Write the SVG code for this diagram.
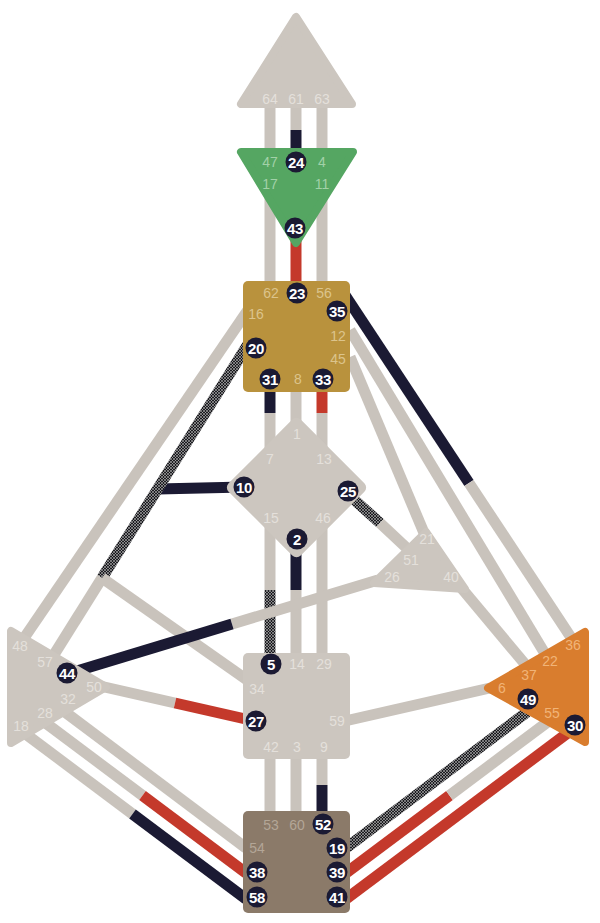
<svg xmlns="http://www.w3.org/2000/svg" width="600" height="923" viewBox="0 0 600 923">
<defs>
<pattern id="hatch" patternUnits="userSpaceOnUse" width="3" height="3">
<rect width="3" height="3" fill="#1c1c20"/>
<path d="M0,0L3,3M3,0L0,3" stroke="#ffffff" stroke-width="0.5" opacity="0.8"/>
</pattern>
<style>
.ch{stroke-width:11;fill:none;stroke-linecap:butt}
.g{stroke:#c9c3bc}
.d{stroke:#1b1a33}
.r{stroke:#c4392b}
.h{stroke:url(#hatch)}
.ctr{stroke-width:8;stroke-linejoin:round}
.gc{fill:#ccc6bf;stroke:#ccc6bf}
.t{font-family:"Liberation Sans",Arial,sans-serif;font-size:14px;text-anchor:middle}
.tg{fill:#e4e0db}
.tt{fill:#dcc48c}
.ta{fill:#a2d1a8}
.ts{fill:#f1b478}
.tr{fill:#b3a697}
.gate circle{fill:#1b1a33}
.gate text{font-family:"Liberation Sans",Arial,sans-serif;font-size:15px;font-weight:bold;fill:#ffffff;text-anchor:middle;letter-spacing:-0.4px}
</style>
</defs>
<rect width="600" height="923" fill="#ffffff"/>
<g id="connectors">
<line class="ch g" x1="270" y1="100" x2="270" y2="162"/>
<line class="ch g" x1="296" y1="100" x2="296" y2="130"/>
<line class="ch d" x1="296" y1="130" x2="296" y2="162"/>
<line class="ch g" x1="322" y1="100" x2="322" y2="162"/>
<line class="ch g" x1="270" y1="184" x2="270" y2="293"/>
<line class="ch r" x1="296" y1="228" x2="296" y2="293"/>
<line class="ch g" x1="322" y1="184" x2="322" y2="293"/>
<line class="ch d" x1="270" y1="378" x2="270" y2="413"/>
<line class="ch g" x1="270" y1="413" x2="270" y2="459"/>
<line class="ch g" x1="296" y1="379" x2="296" y2="434"/>
<line class="ch r" x1="322" y1="378" x2="322" y2="413"/>
<line class="ch g" x1="322" y1="413" x2="322" y2="459"/>
<line class="ch g" x1="270" y1="518" x2="270" y2="590"/>
<line class="ch h" x1="270" y1="590" x2="270" y2="664"/>
<line class="ch d" x1="296" y1="539" x2="296" y2="590"/>
<line class="ch g" x1="296" y1="590" x2="296" y2="664"/>
<line class="ch g" x1="322" y1="518" x2="322" y2="664"/>
<line class="ch g" x1="270" y1="747" x2="270" y2="825"/>
<line class="ch g" x1="296" y1="747" x2="296" y2="825"/>
<line class="ch g" x1="322" y1="747" x2="322" y2="785"/>
<line class="ch d" x1="322" y1="785" x2="322" y2="824"/>
<line class="ch g" x1="252" y1="304" x2="20" y2="644"/>
<line class="ch d" x1="158" y1="489" x2="244" y2="487"/>
<line class="ch h" x1="250" y1="341" x2="102" y2="578"/>
<line class="ch g" x1="102" y1="578" x2="50" y2="661"/>
<line class="ch g" x1="102" y1="578" x2="250" y2="682"/>
<line class="ch g" x1="232" y1="624" x2="378" y2="580"/>
<line class="ch d" x1="67" y1="674" x2="232" y2="624"/>
<line class="ch g" x1="100" y1="686" x2="175" y2="703"/>
<line class="ch r" x1="175" y1="703" x2="250" y2="720"/>
<line class="ch g" x1="65" y1="712" x2="246" y2="848"/>
<line class="ch g" x1="39" y1="718" x2="142.5" y2="795.5"/>
<line class="ch r" x1="142.5" y1="795.5" x2="246" y2="873"/>
<line class="ch g" x1="19" y1="729" x2="132.5" y2="814"/>
<line class="ch d" x1="132.5" y1="814" x2="246" y2="899"/>
<line class="ch g" x1="350" y1="357" x2="427" y2="540"/>
<line class="ch g" x1="350" y1="330" x2="550" y2="662"/>
<line class="ch d" x1="343" y1="292" x2="469" y2="483"/>
<line class="ch g" x1="469" y1="483" x2="574" y2="642"/>
<line class="ch h" x1="350" y1="496" x2="380" y2="523"/>
<line class="ch g" x1="380" y1="523" x2="412" y2="553"/>
<line class="ch g" x1="448" y1="572" x2="530" y2="670"/>
<line class="ch g" x1="345" y1="721" x2="490" y2="688"/>
<line class="ch h" x1="346" y1="848" x2="527" y2="712"/>
<line class="ch r" x1="346" y1="873" x2="449.5" y2="795.5"/>
<line class="ch g" x1="449.5" y1="795.5" x2="553" y2="718"/>
<line class="ch r" x1="346" y1="899" x2="573" y2="729"/>
</g>
<g id="head">
<polygon class="ctr gc" points="296,17 241,104 352,104"/>
<text class="t tg" x="270" y="104">64</text>
<text class="t tg" x="296" y="104">61</text>
<text class="t tg" x="322" y="104">63</text>
</g>
<g id="ajna">
<polygon class="ctr" fill="#55a662" stroke="#55a662" points="241,152 353,152 296,243"/>
<text class="t ta" x="270" y="167">47</text>
<text class="t ta" x="322" y="167">4</text>
<text class="t ta" x="270" y="189">17</text>
<text class="t ta" x="322" y="189">11</text>
<g class="gate"><circle cx="296" cy="162" r="10.5"/><text x="296" y="167.5">24</text></g>
<g class="gate"><circle cx="295" cy="228" r="10.5"/><text x="295" y="233.5">43</text></g>
</g>
<g id="throat">
<rect x="243" y="281" width="107" height="111" rx="5" fill="#b9923d"/>
<text class="t tt" x="271" y="298">62</text>
<text class="t tt" x="324" y="298">56</text>
<text class="t tt" x="256" y="319">16</text>
<text class="t tt" x="338" y="341">12</text>
<text class="t tt" x="338" y="364">45</text>
<text class="t tt" x="298" y="384">8</text>
<g class="gate"><circle cx="297" cy="293" r="10.5"/><text x="297" y="298.5">23</text></g>
<g class="gate"><circle cx="337" cy="311" r="10.5"/><text x="337" y="316.5">35</text></g>
<g class="gate"><circle cx="256" cy="348" r="10.5"/><text x="256" y="353.5">20</text></g>
<g class="gate"><circle cx="270" cy="379" r="10.5"/><text x="270" y="384.5">31</text></g>
<g class="gate"><circle cx="323" cy="379" r="10.5"/><text x="323" y="384.5">33</text></g>
</g>
<g id="g-center">
<rect x="-51" y="-51" width="102" height="102" rx="6" fill="#ccc6bf" transform="translate(296.5,487.5) rotate(45)"/>
<text class="t tg" x="297" y="439">1</text>
<text class="t tg" x="270" y="464">7</text>
<text class="t tg" x="324" y="464">13</text>
<text class="t tg" x="271" y="523">15</text>
<text class="t tg" x="323" y="523">46</text>
<g class="gate"><circle cx="244" cy="487" r="10.5"/><text x="244" y="492.5">10</text></g>
<g class="gate"><circle cx="348" cy="491" r="10.5"/><text x="348" y="496.5">25</text></g>
<g class="gate"><circle cx="297" cy="539" r="10.5"/><text x="297" y="544.5">2</text></g>
</g>
<g id="heart">
<polygon class="ctr gc" points="426,532 374,583 465,589"/>
<text class="t tg" x="427" y="544">21</text>
<text class="t tg" x="411" y="565">51</text>
<text class="t tg" x="392" y="582">26</text>
<text class="t tg" x="451" y="582">40</text>
</g>
<g id="spleen">
<polygon class="ctr gc" points="11,631 11,743 106,687"/>
<text class="t tg" x="20" y="651">48</text>
<text class="t tg" x="45" y="667">57</text>
<text class="t tg" x="94" y="692">50</text>
<text class="t tg" x="68" y="704">32</text>
<text class="t tg" x="45" y="718">28</text>
<text class="t tg" x="21" y="731">18</text>
<g class="gate"><circle cx="67" cy="673" r="10.5"/><text x="67" y="678.5">44</text></g>
</g>
<g id="sacral">
<rect x="243" y="653" width="107" height="106" rx="5" fill="#ccc6bf"/>
<text class="t tg" x="297" y="669">14</text>
<text class="t tg" x="324" y="669">29</text>
<text class="t tg" x="257" y="694">34</text>
<text class="t tg" x="337" y="726">59</text>
<text class="t tg" x="271" y="752">42</text>
<text class="t tg" x="297" y="752">3</text>
<text class="t tg" x="324" y="752">9</text>
<g class="gate"><circle cx="271" cy="664" r="10.5"/><text x="271" y="669.5">5</text></g>
<g class="gate"><circle cx="256" cy="721" r="10.5"/><text x="256" y="726.5">27</text></g>
</g>
<g id="solar-plexus">
<polygon class="ctr" fill="#d97d2e" stroke="#d97d2e" points="585,632 585,742 488,688"/>
<text class="t ts" x="573" y="650">36</text>
<text class="t ts" x="550" y="666">22</text>
<text class="t ts" x="529" y="680">37</text>
<text class="t ts" x="502" y="693">6</text>
<text class="t ts" x="552" y="718">55</text>
<g class="gate"><circle cx="528" cy="699" r="10.5"/><text x="528" y="704.5">49</text></g>
<g class="gate"><circle cx="575" cy="725" r="10.5"/><text x="575" y="730.5">30</text></g>
</g>
<g id="root">
<rect x="243" y="811" width="107" height="102" rx="5" fill="#8b7a69"/>
<text class="t tr" x="271" y="830">53</text>
<text class="t tr" x="297" y="830">60</text>
<text class="t tr" x="257" y="853">54</text>
<g class="gate"><circle cx="323" cy="824" r="10.5"/><text x="323" y="829.5">52</text></g>
<g class="gate"><circle cx="337" cy="848" r="10.5"/><text x="337" y="853.5">19</text></g>
<g class="gate"><circle cx="257" cy="872" r="10.5"/><text x="257" y="877.5">38</text></g>
<g class="gate"><circle cx="337" cy="872" r="10.5"/><text x="337" y="877.5">39</text></g>
<g class="gate"><circle cx="257" cy="897" r="10.5"/><text x="257" y="902.5">58</text></g>
<g class="gate"><circle cx="337" cy="897" r="10.5"/><text x="337" y="902.5">41</text></g>
</g>
</svg>
